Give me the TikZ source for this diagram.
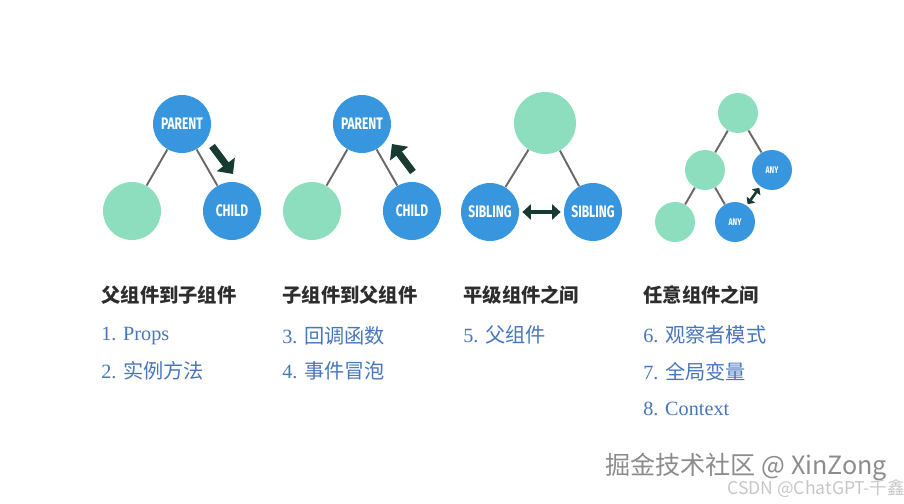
\documentclass[tikz,border=0pt]{standalone}
\usepackage{graphicx}
\usepackage{fontspec}
\setmainfont{Liberation Serif}
\setsansfont{Fira Sans}
\newfontfamily\cjk{Noto Sans CJK SC}
\usetikzlibrary{arrows.meta}

\definecolor{compblue}{RGB}{56,150,222}
\definecolor{compgreen}{RGB}{140,222,190}
\definecolor{arrowdark}{RGB}{24,58,48}
\definecolor{edgegray}{RGB}{105,105,105}
\definecolor{itemblue}{RGB}{72,118,188}
\definecolor{headgray}{RGB}{45,45,45}

% condensed label inside a circle
\newcommand{\cname}[1]{\scalebox{0.72}[1]{#1}}

\tikzset{
  bluecomp/.style={circle, fill=compblue, inner sep=0pt, minimum size=1.16cm,
    text=white, font=\sffamily\bfseries\fontsize{9.5}{10}\selectfont},
  greencomp/.style={circle, fill=compgreen, inner sep=0pt, minimum size=1.16cm},
  smallblue/.style={bluecomp, minimum size=0.8cm, font=\sffamily\bfseries\fontsize{5.5}{6}\selectfont},
  smallgreen/.style={greencomp, minimum size=0.8cm},
  link/.style={draw=edgegray, line width=1.1pt},
  flow/.style={draw=arrowdark, line width=4pt, -{Triangle[length=0.24cm, width=0.44cm]}},
  swap/.style={draw=arrowdark, line width=2.4pt, {Triangle[length=0.17cm, width=0.3cm]}-{Triangle[length=0.17cm, width=0.3cm]}},
  smallswap/.style={draw=arrowdark, line width=1.5pt, {Triangle[length=0.11cm, width=0.2cm]}-{Triangle[length=0.11cm, width=0.2cm]}},
  heading/.style={anchor=west, inner sep=0pt, text=headgray, font=\cjk\bfseries\fontsize{11}{13}\selectfont},
  item/.style={anchor=west, inner sep=0pt, text=itemblue, font=\fontsize{11.5}{13}\selectfont}
}

\begin{document}
\begin{tikzpicture}[x=0.02cm, y=-0.02cm]
  \useasboundingbox (0,0) rectangle (904,504);
  % Diagram 1: parent -> child
  \begin{scope}
    \node[bluecomp] (p1) at (182,124) {\cname{PARENT}};
    \node[greencomp] (g1) at (132,211) {};
    \node[bluecomp] (c1) at (232,211) {\cname{CHILD}};
    \draw[link] (p1) -- (g1);
    \draw[link] (p1) -- (c1);
    \coordinate (a1s) at (212,146);
    \coordinate (a1e) at (233,174);
    \draw[flow] (a1s) -- (a1e);
  \end{scope}
  % Diagram 2: child -> parent (same layout, shifted)
  \begin{scope}[xshift=3.6cm]
    \node[bluecomp] (p2) at (182,124) {\cname{PARENT}};
    \node[greencomp] (g2) at (132,211) {};
    \node[bluecomp] (c2) at (232,211) {\cname{CHILD}};
    \draw[link] (p2) -- (g2);
    \draw[link] (p2) -- (c2);
    \coordinate (a2s) at (233,172);
    \coordinate (a2e) at (212,144);
    \draw[flow] (a2s) -- (a2e);
  \end{scope}
  % Diagram 3: siblings
  \begin{scope}
    \node[greencomp, minimum size=1.24cm] (t3) at (545,123) {};
    \node[bluecomp] (s3a) at (490,212) {\cname{SIBLING}};
    \node[bluecomp] (s3b) at (593,212) {\cname{SIBLING}};
    \draw[link] (t3) -- (s3a);
    \draw[link] (t3) -- (s3b);
    \draw[swap, shorten <=0.06cm, shorten >=0.06cm] (s3a) -- (s3b);
  \end{scope}
  % Diagram 4: any two components
  \begin{scope}
    \node[smallgreen] (t4) at (738,113) {};
    \node[smallgreen] (m4) at (705,170) {};
    \node[smallblue] (u4) at (772,170) {\cname{ANY}};
    \node[smallgreen] (l4) at (675,222) {};
    \node[smallblue] (d4) at (735,222) {\cname{ANY}};
    \draw[link] (t4) -- (m4);
    \draw[link] (t4) -- (u4);
    \draw[link] (m4) -- (l4);
    \draw[link] (m4) -- (d4);
    \draw[smallswap, shorten <=0.03cm, shorten >=0.03cm] (d4) -- (u4);
  \end{scope}
  % headings
  \node[heading] (h1) at (101,295) {父组件到子组件};
  \node[heading] (h2) at (282,295) {子组件到父组件};
  \node[heading] (h3) at (463,295) {平级组件之间};
  \node[heading] (h4) at (643,295) {任意组件之间};
  % methods
  \node[item] (m1) at (101,336) {1. Props};
  \node[item] (m2) at (101,371) {2. {\cjk 实例方法}};
  \node[item] (m3) at (282,336) {3. {\cjk 回调函数}};
  \node[item] (m4) at (282,371) {4. {\cjk 事件冒泡}};
  \node[item] (m5) at (463,335) {5. {\cjk 父组件}};
  \node[item] (m6) at (643,335) {6. {\cjk 观察者模式}};
  \node[item] (m7) at (643,372) {7. {\cjk 全局变量}};
  \node[item] (m8) at (643,409) {8. Context};
  % watermarks
  \node[anchor=west, inner sep=0pt, text=black!45, font=\cjk\fontsize{14.3}{16}\selectfont] (w1) at (605,467) {掘金技术社区 @ XinZong};
  \node[anchor=west, inner sep=0pt, text=black!22, font=\cjk\fontsize{10}{12}\selectfont] (w2) at (727,489) {CSDN @ChatGPT-千鑫};
\end{tikzpicture}
\end{document}
